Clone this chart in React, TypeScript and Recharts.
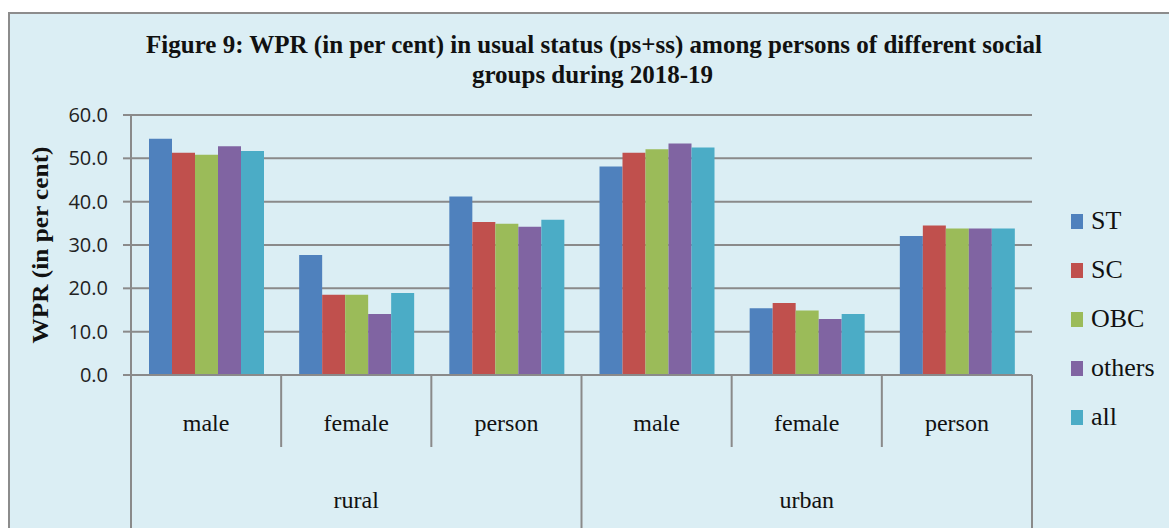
import { BarChart, Bar, XAxis, YAxis, CartesianGrid, Legend } from 'recharts';

// values (WPR, per cent)
const places = ['rural', 'rural', 'rural', 'urban', 'urban', 'urban'];
const sexes = ['male', 'female', 'person', 'male', 'female', 'person'];
const stValues = [54.5, 27.7, 41.2, 48.1, 15.4, 32.1];
const scValues = [51.3, 18.5, 35.3, 51.3, 16.6, 34.5];
const obcValues = [50.8, 18.5, 34.9, 52.1, 14.9, 33.8];
const othersValues = [52.8, 14.1, 34.2, 53.4, 12.9, 33.8];
const allValues = [51.7, 18.9, 35.8, 52.5, 14.1, 33.8];
const yTicks = [0, 10, 20, 30, 40, 50, 60];

const series = [
  { key: 'ST', color: '#4F81BD' },
  { key: 'SC', color: '#C0504D' },
  { key: 'OBC', color: '#9BBB59' },
  { key: 'others', color: '#8064A2' },
  { key: 'all', color: '#4BACC6' },
];

const data = sexes.map((sex, i) => ({
  sex,
  place: places[i],
  ST: stValues[i],
  SC: scValues[i],
  OBC: obcValues[i],
  others: othersValues[i],
  all: allValues[i],
}));

const W = 1169;
const H = 528;
const PLOT_LEFT = 131;
const PLOT_RIGHT = 1032;
const PLOT_TOP = 115;
const PLOT_BOTTOM = 375;
const BAND = (PLOT_RIGHT - PLOT_LEFT) / sexes.length;
const GRID = '#8a8a8a';
const SERIF = "'Liberation Serif', 'Times New Roman', serif";
const SANS = "'Liberation Sans Narrow', 'Open Sans', sans-serif";

function CategoryTick(props: any) {
  const { x, payload } = props;
  const i = payload.index;
  const left = x - BAND / 2;
  const right = x + BAND / 2;
  return (
    <g>
      <line x1={left} x2={left} y1={PLOT_BOTTOM} y2={i % 3 === 0 ? H : 447} stroke={GRID} strokeWidth={2} />
      {i === sexes.length - 1 && (
        <line x1={right} x2={right} y1={PLOT_BOTTOM} y2={H} stroke={GRID} strokeWidth={2} />
      )}
      <text x={x} y={431} textAnchor="middle" fontFamily={SERIF} fontSize={24} fill="#111">
        {payload.value}
      </text>
      {i % 3 === 1 && (
        <text x={x} y={508} textAnchor="middle" fontFamily={SERIF} fontSize={24} fill="#111">
          {places[i]}
        </text>
      )}
    </g>
  );
}

function ValueTick(props: any) {
  const { x, y, payload } = props;
  return (
    <text x={x} y={y} dy={7} textAnchor="end" fontFamily={SANS} fontSize={20} fill="#222">
      {Number(payload.value).toFixed(1)}
    </text>
  );
}

function LegendList(props: any) {
  const order = series.map((s) => s.key);
  const items = [...(props.payload || [])].sort(
    (a: any, b: any) => order.indexOf(a.value) - order.indexOf(b.value)
  );
  return (
    <div style={{ position: 'relative' }}>
      {items.map((entry: any, i: number) => (
        <div
          key={entry.value}
          style={{ position: 'absolute', left: 0, top: i * 49, height: 30, display: 'flex', alignItems: 'center' }}
        >
          <span style={{ display: 'inline-block', width: 12, height: 15, background: entry.color, marginRight: 8 }} />
          <span style={{ fontFamily: SERIF, fontSize: 26, color: '#111', lineHeight: '30px' }}>{entry.value}</span>
        </div>
      ))}
    </div>
  );
}

export default function App() {
  return (
    <div style={{ position: 'absolute', left: 0, top: 0, width: W, height: H, background: '#fff', overflow: 'hidden' }}>
      <div
        style={{
          position: 'absolute',
          left: 8,
          top: 12,
          width: W,
          height: H,
          background: '#DBEEF4',
          border: '2px solid #8c8c8c',
          boxSizing: 'border-box',
        }}
      />
      <div style={{ position: 'absolute', left: 0, top: 0 }}>
        <BarChart
          width={W}
          height={H}
          data={data}
          margin={{ top: PLOT_TOP, right: W - PLOT_RIGHT, bottom: 0, left: PLOT_LEFT - 60 }}
          barCategoryGap={18}
          barGap={0}
        >
          <CartesianGrid vertical={false} stroke={GRID} strokeWidth={2} />
          <XAxis
            dataKey="sex"
            height={H - PLOT_BOTTOM}
            axisLine={{ stroke: GRID, strokeWidth: 2 }}
            tickLine={false}
            interval={0}
            tick={<CategoryTick />}
          />
          <YAxis
            width={60}
            domain={[0, 60]}
            ticks={yTicks}
            axisLine={{ stroke: GRID, strokeWidth: 2 }}
            tickLine={{ stroke: GRID, strokeWidth: 2 }}
            tickSize={8}
            tickMargin={15}
            tick={<ValueTick />}
          />
          <Legend
            layout="vertical"
            align="center"
            verticalAlign="middle"
            content={<LegendList />}
            wrapperStyle={{ position: 'absolute', left: 1071, top: 206, width: 98, height: 240 }}
          />
          {series.map((s) => (
            <Bar key={s.key} dataKey={s.key} name={s.key} fill={s.color} isAnimationActive={false} />
          ))}
        </BarChart>
      </div>
      <svg width={W} height={H} style={{ position: 'absolute', left: 0, top: 0, pointerEvents: 'none' }}>
        <g fontFamily={SERIF} fontWeight="bold" fill="#111">
          <text x={146} y={53} fontSize={26} textLength={896} lengthAdjust="spacingAndGlyphs">
            Figure 9: WPR (in per cent) in usual status (ps+ss) among persons of different social
          </text>
          <text x={472} y={83} fontSize={26} textLength={241} lengthAdjust="spacingAndGlyphs">
            groups during 2018-19
          </text>
          <text
            x={0}
            y={0}
            fontSize={23}
            textAnchor="middle"
            textLength={197}
            lengthAdjust="spacingAndGlyphs"
            transform="translate(48 245) rotate(-90)"
          >
            WPR (in per cent)
          </text>
        </g>
      </svg>
    </div>
  );
}
